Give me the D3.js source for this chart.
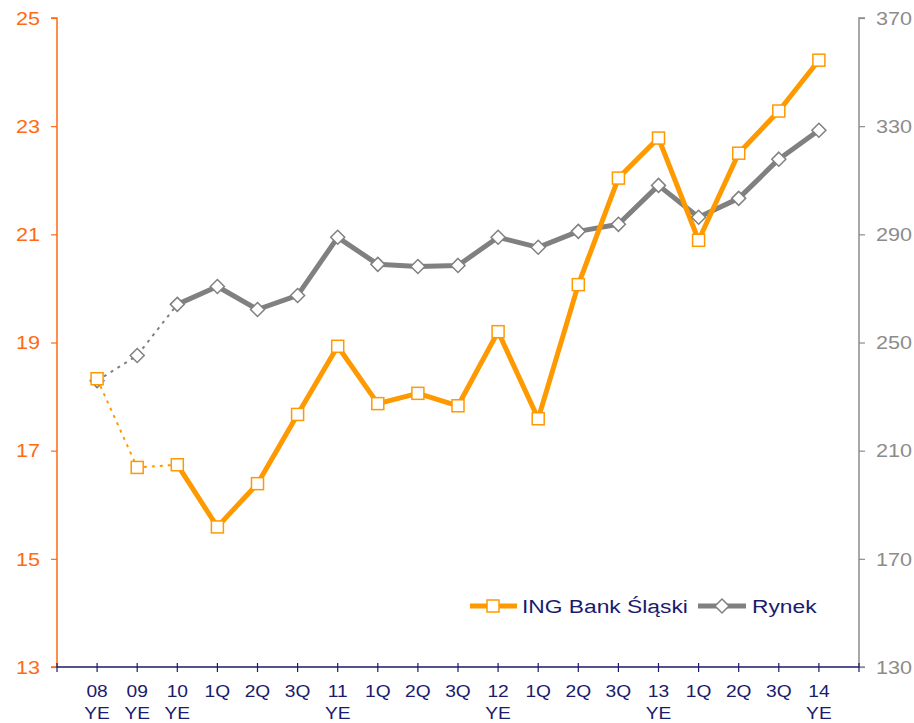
<!DOCTYPE html>
<html>
<head>
<meta charset="utf-8">
<script src="https://cdn.jsdelivr.net/npm/d3@7"></script>
<style>
  body { margin: 0; background: #fff; }
  svg { display: block; font-family: "Liberation Sans", Arial, sans-serif; }
</style>
</head>
<body>
<svg id="chart"></svg>
<script>
// Period labels (two lines each)
const periods = ['08', '09', '10', '1Q', '2Q', '3Q', '11', '1Q', '2Q', '3Q', '12', '1Q', '2Q', '3Q', '13', '1Q', '2Q', '3Q', '14'];
const periodSub = ['YE', 'YE', 'YE', '', '', '', 'YE', '', '', '', 'YE', '', '', '', 'YE', '', '', '', 'YE'];

// ING Bank Śląski (left axis)
const ingValues = [18.33, 16.69, 16.74, 15.59, 16.39, 17.67, 18.93, 17.87, 18.06, 17.83, 19.2, 17.59, 20.07, 22.04, 22.78, 20.89, 22.5, 23.28, 24.22];
// Rynek (right axis)
const rynekValues = [235.9, 245.2, 264.1, 270.7, 262.2, 267.4, 288.9, 278.9, 278.1, 278.5, 288.9, 285.2, 291.1, 293.7, 308.1, 296.3, 303.3, 317.8, 328.5];

const leftTicks = [13, 15, 17, 19, 21, 23, 25];
const rightTicks = [130, 170, 210, 250, 290, 330, 370];
const dottedUntil = 2; // first points joined by a thin dotted line

const W = 914, H = 723;
const x0 = 57, x1 = 859, yTop = 18, yBot = 667;
const stretch = 1.2; // the original text is set wide

const svg = d3.select('#chart').attr('width', W).attr('height', H);

const idx = d3.range(periods.length);
const x = d3.scalePoint().domain(idx).range([x0, x1]).padding(1);
const yL = d3.scaleLinear().domain([13, 25]).range([yBot, yTop]);
const yR = d3.scaleLinear().domain([130, 370]).range([yBot, yTop]);

const orange = '#ff9900';
const axisOrange = '#ff6a13';
const gray = '#808080';
const navy = '#1a1a6e';

// wide text helper
function wideText(g, tx, ty, anchor, size, color, txt) {
  return g.append('text')
    .attr('transform', `translate(${tx},${ty}) scale(${stretch},1)`)
    .attr('text-anchor', anchor)
    .attr('fill', color)
    .style('font-size', size + 'px')
    .text(txt);
}

// Left axis
const leftAxis = svg.append('g')
  .attr('transform', `translate(${x0},0)`)
  .call(d3.axisLeft(yL).tickValues(leftTicks).tickSize(6).tickFormat(d3.format('d')));
leftAxis.select('.domain').attr('stroke', axisOrange).attr('stroke-width', 1.5).attr('d', `M-6,${yTop}H0V${yBot}H-6`);
leftAxis.selectAll('.tick line').attr('stroke', axisOrange).attr('stroke-width', 1.2);
leftAxis.selectAll('.tick text')
  .attr('x', null).attr('dy', '0.35em')
  .attr('transform', `translate(-17,0) scale(${stretch},1)`)
  .attr('fill', axisOrange).style('font-size', '18px');

// Right axis
const rightAxis = svg.append('g')
  .attr('transform', `translate(${x1},0)`)
  .call(d3.axisRight(yR).tickValues(rightTicks).tickSize(6).tickFormat(d3.format('d')));
rightAxis.select('.domain').attr('stroke', '#8c8c8c').attr('stroke-width', 1.5).attr('d', `M6,${yTop}H0V${yBot}H6`);
rightAxis.selectAll('.tick line').attr('stroke', '#8c8c8c').attr('stroke-width', 1.2);
rightAxis.selectAll('.tick text')
  .attr('x', null).attr('dy', '0.35em')
  .attr('transform', `translate(17,0) scale(${stretch},1)`)
  .attr('fill', '#8c8c8c').style('font-size', '18px');

// Bottom axis
const bottom = svg.append('g');
bottom.append('line')
  .attr('x1', x0).attr('x2', x1).attr('y1', yBot).attr('y2', yBot)
  .attr('stroke', navy).attr('stroke-width', 1.6);
const tickXs = [x0].concat(idx.map(i => x(i))).concat([x1]);
bottom.selectAll('line.tk').data(tickXs).enter().append('line')
  .attr('class', 'tk')
  .attr('x1', d => d).attr('x2', d => d)
  .attr('y1', yBot - 4).attr('y2', yBot + 5)
  .attr('stroke', navy).attr('stroke-width', 1.2);
idx.forEach(i => {
  wideText(bottom, x(i), 697, 'middle', 16, navy, periods[i]);
  if (periodSub[i]) wideText(bottom, x(i), 719, 'middle', 16, navy, periodSub[i]);
});

// Lines
function drawSeries(values, yScale, color) {
  const pts = values.map((v, i) => [i, v]);
  const ln = d3.line().x(d => x(d[0])).y(d => yScale(d[1]));
  svg.append('path')
    .attr('d', ln(pts.slice(0, dottedUntil + 1)))
    .attr('fill', 'none').attr('stroke', color).attr('stroke-width', 2)
    .attr('stroke-dasharray', '3,5');
  svg.append('path')
    .attr('d', ln(pts.slice(dottedUntil)))
    .attr('fill', 'none').attr('stroke', color).attr('stroke-width', 5)
    .attr('stroke-linejoin', 'round');
  return pts;
}

const rPts = drawSeries(rynekValues, yR, gray);
const iPts = drawSeries(ingValues, yL, orange);

// Markers: Rynek diamonds
svg.append('g').selectAll('path').data(rPts).enter().append('path')
  .attr('transform', d => `translate(${x(d[0])},${yR(d[1])})`)
  .attr('d', 'M0,-7L7,0L0,7L-7,0Z')
  .attr('fill', '#fff').attr('stroke', gray).attr('stroke-width', 1.5);

// Markers: ING squares
svg.append('g').selectAll('rect').data(iPts).enter().append('rect')
  .attr('x', d => x(d[0]) - 6).attr('y', d => yL(d[1]) - 6)
  .attr('width', 12).attr('height', 12)
  .attr('fill', '#fff').attr('stroke', orange).attr('stroke-width', 1.5);

// Legend
const legend = svg.append('g').attr('transform', 'translate(0,606)');
legend.append('line').attr('x1', 470).attr('x2', 517).attr('y1', 0).attr('y2', 0)
  .attr('stroke', orange).attr('stroke-width', 5);
legend.append('rect').attr('x', 487).attr('y', -6).attr('width', 12).attr('height', 12)
  .attr('fill', '#fff').attr('stroke', orange).attr('stroke-width', 1.5);
wideText(legend, 522, 7, 'start', 19, navy, 'ING Bank Śląski');
legend.append('line').attr('x1', 698).attr('x2', 746).attr('y1', 0).attr('y2', 0)
  .attr('stroke', gray).attr('stroke-width', 5);
legend.append('path').attr('transform', 'translate(722,0)')
  .attr('d', 'M0,-7L7,0L0,7L-7,0Z')
  .attr('fill', '#fff').attr('stroke', gray).attr('stroke-width', 1.5);
wideText(legend, 752, 7, 'start', 19, navy, 'Rynek');
</script>
</body>
</html>
